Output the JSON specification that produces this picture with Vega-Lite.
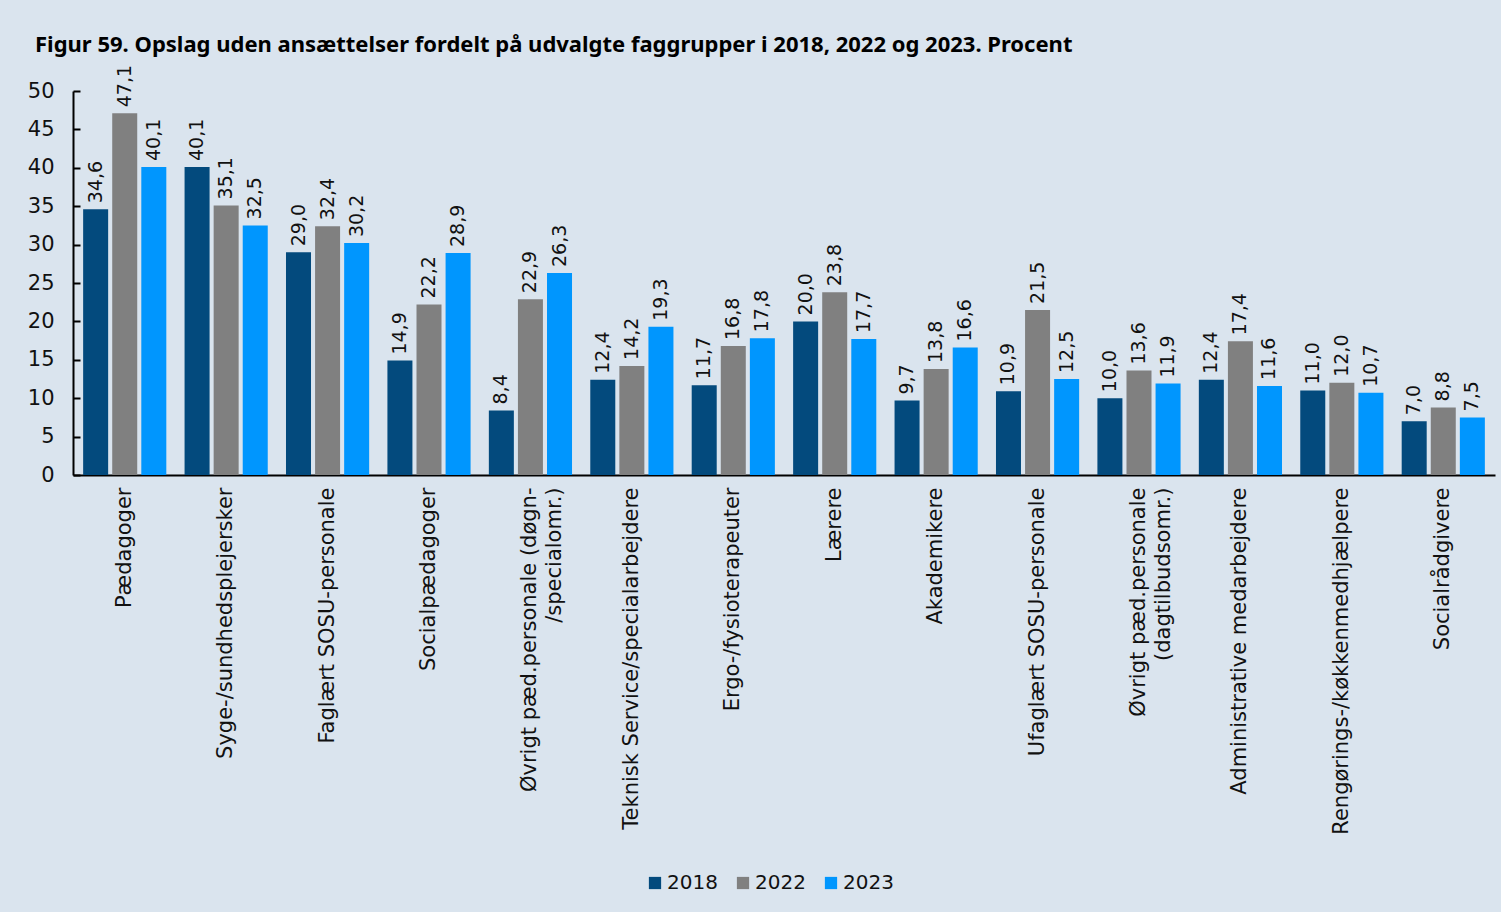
{
  "$schema": "https://vega.github.io/schema/vega-lite/v6.json",
  "autosize": {"type": "none"},
  "padding": {"left": 73, "top": 91, "right": 6, "bottom": 437},
  "width": 1422,
  "height": 384,
  "background": "#dae4ee",
  "title": {
    "text": "Figur 59.  Opslag uden ansættelser fordelt på udvalgte faggrupper i 2018, 2022 og 2023. Procent",
    "anchor": "start",
    "frame": "group",
    "dx": -38,
    "offset": 8,
    "fontSize": 22,
    "fontWeight": "bold",
    "font": "Noto Sans",
    "color": "#000000"
  },
  "config": {
    "locale": {"number": {"decimal": ",", "thousands": ".", "grouping": [3], "currency": ["", " kr."]}},
    "font": "DejaVu Sans",
    "view": {"stroke": null},
    "axis": {"labelColor": "#111111", "labelFont": "DejaVu Sans"}
  },
  "data": {
    "values": [
      {"gruppe": "Pædagoger", "aar": "2018", "pct": 34.6},
      {"gruppe": "Pædagoger", "aar": "2022", "pct": 47.1},
      {"gruppe": "Pædagoger", "aar": "2023", "pct": 40.1},
      {"gruppe": "Syge-/sundhedsplejersker", "aar": "2018", "pct": 40.1},
      {"gruppe": "Syge-/sundhedsplejersker", "aar": "2022", "pct": 35.1},
      {"gruppe": "Syge-/sundhedsplejersker", "aar": "2023", "pct": 32.5},
      {"gruppe": "Faglært SOSU-personale", "aar": "2018", "pct": 29.0},
      {"gruppe": "Faglært SOSU-personale", "aar": "2022", "pct": 32.4},
      {"gruppe": "Faglært SOSU-personale", "aar": "2023", "pct": 30.2},
      {"gruppe": "Socialpædagoger", "aar": "2018", "pct": 14.9},
      {"gruppe": "Socialpædagoger", "aar": "2022", "pct": 22.2},
      {"gruppe": "Socialpædagoger", "aar": "2023", "pct": 28.9},
      {"gruppe": "Øvrigt pæd.personale (døgn-|/specialomr.)", "aar": "2018", "pct": 8.4},
      {"gruppe": "Øvrigt pæd.personale (døgn-|/specialomr.)", "aar": "2022", "pct": 22.9},
      {"gruppe": "Øvrigt pæd.personale (døgn-|/specialomr.)", "aar": "2023", "pct": 26.3},
      {"gruppe": "Teknisk Service/specialarbejdere", "aar": "2018", "pct": 12.4},
      {"gruppe": "Teknisk Service/specialarbejdere", "aar": "2022", "pct": 14.2},
      {"gruppe": "Teknisk Service/specialarbejdere", "aar": "2023", "pct": 19.3},
      {"gruppe": "Ergo-/fysioterapeuter", "aar": "2018", "pct": 11.7},
      {"gruppe": "Ergo-/fysioterapeuter", "aar": "2022", "pct": 16.8},
      {"gruppe": "Ergo-/fysioterapeuter", "aar": "2023", "pct": 17.8},
      {"gruppe": "Lærere", "aar": "2018", "pct": 20.0},
      {"gruppe": "Lærere", "aar": "2022", "pct": 23.8},
      {"gruppe": "Lærere", "aar": "2023", "pct": 17.7},
      {"gruppe": "Akademikere", "aar": "2018", "pct": 9.7},
      {"gruppe": "Akademikere", "aar": "2022", "pct": 13.8},
      {"gruppe": "Akademikere", "aar": "2023", "pct": 16.6},
      {"gruppe": "Ufaglært SOSU-personale", "aar": "2018", "pct": 10.9},
      {"gruppe": "Ufaglært SOSU-personale", "aar": "2022", "pct": 21.5},
      {"gruppe": "Ufaglært SOSU-personale", "aar": "2023", "pct": 12.5},
      {"gruppe": "Øvrigt pæd.personale|(dagtilbudsomr.)", "aar": "2018", "pct": 10.0},
      {"gruppe": "Øvrigt pæd.personale|(dagtilbudsomr.)", "aar": "2022", "pct": 13.6},
      {"gruppe": "Øvrigt pæd.personale|(dagtilbudsomr.)", "aar": "2023", "pct": 11.9},
      {"gruppe": "Administrative medarbejdere", "aar": "2018", "pct": 12.4},
      {"gruppe": "Administrative medarbejdere", "aar": "2022", "pct": 17.4},
      {"gruppe": "Administrative medarbejdere", "aar": "2023", "pct": 11.6},
      {"gruppe": "Rengørings-/køkkenmedhjælpere", "aar": "2018", "pct": 11.0},
      {"gruppe": "Rengørings-/køkkenmedhjælpere", "aar": "2022", "pct": 12.0},
      {"gruppe": "Rengørings-/køkkenmedhjælpere", "aar": "2023", "pct": 10.7},
      {"gruppe": "Socialrådgivere", "aar": "2018", "pct": 7.0},
      {"gruppe": "Socialrådgivere", "aar": "2022", "pct": 8.8},
      {"gruppe": "Socialrådgivere", "aar": "2023", "pct": 7.5}
    ]
  },
  "encoding": {
    "x": {
      "field": "gruppe",
      "type": "nominal",
      "sort": null,
      "scale": {"paddingInner": 0.18, "paddingOuter": 0.1},
      "axis": {
        "title": null,
        "labelAngle": -90,
        "labelAlign": "right",
        "labelBaseline": "middle",
        "labelFontSize": 21,
        "labelPadding": 12,
        "labelLimit": 500,
        "labelLineHeight": 25,
        "labelExpr": "split(datum.label, '|')",
        "ticks": false,
        "domainColor": "#000000",
        "domainWidth": 2
      }
    },
    "xOffset": {"field": "aar", "type": "nominal", "scale": {"paddingInner": 0.14}},
    "y": {
      "field": "pct",
      "type": "quantitative",
      "scale": {"domain": [0, 50], "nice": false},
      "axis": {
        "title": null,
        "values": [0, 5, 10, 15, 20, 25, 30, 35, 40, 45, 50],
        "grid": false,
        "labelFontSize": 21,
        "tickSize": -7,
        "tickColor": "#000000",
        "tickWidth": 2,
        "labelPadding": 26,
        "domainColor": "#000000",
        "domainWidth": 2
      }
    }
  },
  "layer": [
    {
      "mark": {"type": "bar"},
      "encoding": {
        "color": {
          "field": "aar",
          "type": "nominal",
          "scale": {"domain": ["2018", "2022", "2023"], "range": ["#034a7d", "#808080", "#0096fe"]},
          "legend": {
            "title": null,
            "orient": "none",
            "legendX": 572,
            "legendY": 782,
            "direction": "horizontal",
            "symbolType": "square",
            "symbolSize": 150,
            "symbolStrokeWidth": 0,
            "labelFont": "DejaVu Sans",
            "labelFontSize": 20,
            "labelColor": "#111111",
            "labelOffset": 2,
            "columnPadding": 15
          }
        }
      }
    },
    {
      "mark": {"type": "text", "angle": -90, "align": "left", "baseline": "middle", "dx": 6, "fontSize": 19, "color": "#111111", "font": "DejaVu Sans"},
      "encoding": {
        "text": {"field": "pct", "type": "quantitative", "format": ".1f"}
      }
    }
  ]
}
